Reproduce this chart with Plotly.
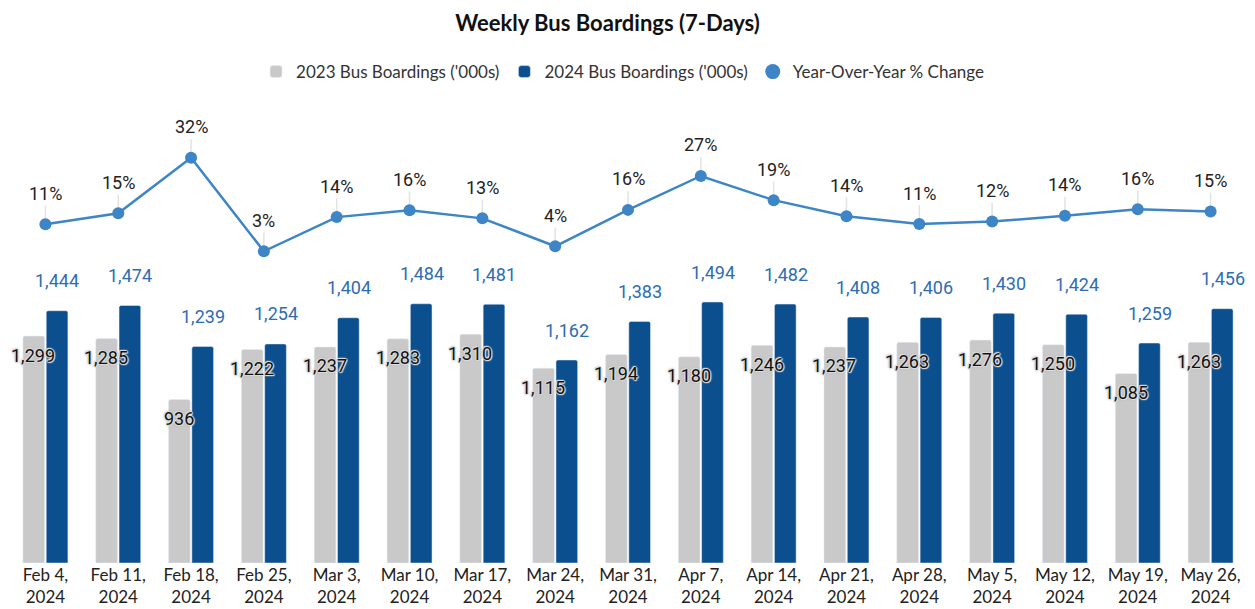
import plotly.graph_objects as go

weeks = ["Feb 4,<br>2024", "Feb 11,<br>2024", "Feb 18,<br>2024", "Feb 25,<br>2024",
         "Mar 3,<br>2024", "Mar 10,<br>2024", "Mar 17,<br>2024", "Mar 24,<br>2024",
         "Mar 31,<br>2024", "Apr 7,<br>2024", "Apr 14,<br>2024", "Apr 21,<br>2024",
         "Apr 28,<br>2024", "May 5,<br>2024", "May 12,<br>2024", "May 19,<br>2024",
         "May 26,<br>2024"]
boardings_2023 = [1299, 1285, 936, 1222, 1237, 1283, 1310, 1115, 1194, 1180, 1246, 1237,
                  1263, 1276, 1250, 1085, 1263]
boardings_2024 = [1444, 1474, 1239, 1254, 1404, 1484, 1481, 1162, 1383, 1494, 1482, 1408,
                  1406, 1430, 1424, 1259, 1456]
yoy_change = [0.112, 0.147, 0.324, 0.026, 0.135, 0.157, 0.131, 0.042, 0.158, 0.266, 0.189,
              0.138, 0.113, 0.121, 0.139, 0.160, 0.153]

GRAY = "#c9c9c9"
BLUE = "#0b4f8f"
LABEL_BLUE = "#2e6cb3"
LINE = "#3d85c6"
DATA_FONT = "Roboto"
CAT_FONT = "Lato"
HALO = ("1px 0 1px #dcdcdc, -1px 0 1px #dcdcdc, 0 1px 1px #dcdcdc, 0 -1px 1px #dcdcdc, "
        "1px 1px 1px #dcdcdc, -1px -1px 1px #dcdcdc, 0 0 3px #888")

fig = go.Figure()
fig.add_trace(go.Bar(
    x=weeks, y=boardings_2023, name="2023 Bus Boardings ('000s)",
    marker=dict(color=GRAY), yaxis="y", offsetgroup="a"))
fig.add_trace(go.Bar(
    x=weeks, y=boardings_2024, name="2024 Bus Boardings ('000s)",
    marker=dict(color=BLUE), yaxis="y", offsetgroup="b"))
fig.add_trace(go.Scatter(
    x=weeks, y=yoy_change, name="Year-Over-Year % Change", mode="lines+markers",
    line=dict(color=LINE, width=2.5), marker=dict(color=LINE, size=12),
    error_y=dict(type="data", symmetric=False, array=[0.06] * len(weeks),
                 arrayminus=[0] * len(weeks), color="#e3e3e3", thickness=1.5, width=0),
    yaxis="y2", showlegend=False))
fig.add_trace(go.Scatter(
    x=[None], y=[None], name="Year-Over-Year % Change", mode="markers",
    marker=dict(color=LINE, size=15), yaxis="y2"))

annotations = []
for w, v in zip(weeks, boardings_2023):
    annotations.append(dict(
        x=w, y=v, xref="x", yref="y", text=f"{v:,}", showarrow=False,
        xshift=-12, yshift=-19,
        font=dict(family=DATA_FONT, size=18, color="#111111", shadow=HALO)))
for w, v in zip(weeks, boardings_2024):
    annotations.append(dict(
        x=w, y=v, xref="x", yref="y", text=f"{v:,}", showarrow=False,
        xshift=12, yshift=30,
        font=dict(family=DATA_FONT, size=18, color=LABEL_BLUE)))
for w, v in zip(weeks, yoy_change):
    annotations.append(dict(
        x=w, y=v, xref="x", yref="y2", text=f"{v:.0%}", showarrow=False,
        yshift=31,
        font=dict(family=DATA_FONT, size=18, color="#222222")))

fig.update_layout(
    width=1255, height=609,
    margin=dict(l=1, r=16, t=87, b=54),
    paper_bgcolor="white", plot_bgcolor="white",
    barmode="group", bargap=0.36, bargroupgap=0.07, barcornerradius=2,
    title=dict(text="<b>Weekly Bus Boardings (7-Days)</b>", x=0.4777, xanchor="center",
               y=0.975, yanchor="middle", yref="container",
               font=dict(family=CAT_FONT, size=22, color="#111111")),
    legend=dict(orientation="h", x=0.496, xanchor="center", y=1.049, yanchor="middle",
                font=dict(family=CAT_FONT, size=17, color="#333333"),
                itemclick=False, traceorder="normal"),
    xaxis=dict(showgrid=False, showline=False, zeroline=False, ticks="",
               range=[-0.5, len(weeks) - 0.5],
               tickfont=dict(family=CAT_FONT, size=17, color="#222222")),
    yaxis=dict(range=[0, 2679], visible=False, showgrid=False, zeroline=False),
    yaxis2=dict(range=[-0.967, 0.524], overlaying="y", visible=False, showgrid=False,
                zeroline=False),
    annotations=annotations,
    showlegend=True,
)

fig.write_html("out.html")
